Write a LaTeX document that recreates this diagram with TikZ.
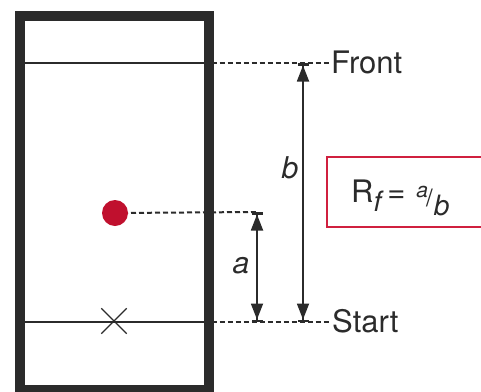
\documentclass[tikz,border=0pt]{standalone}
\usepackage{fontspec}
\setmainfont{TeX Gyre Heros}
\usetikzlibrary{arrows.meta,shapes.misc}
\definecolor{ink}{HTML}{2B2B2B}
\definecolor{spotred}{HTML}{C0102E}
\definecolor{boxred}{HTML}{D0203F}
\newcommand{\fs}[1]{\fontsize{#1}{#1}\selectfont}
\tikzset{
  wall/.style={draw=ink, line width=10pt},
  solvent/.style={draw=ink, line width=2pt},
  guide/.style={draw=ink, line width=2pt, dash pattern=on 5pt off 3pt},
  dimline/.style={draw=ink, line width=1.8pt,
    {Bar[width=11pt,line width=2.5pt] Triangle[length=16pt,width=12pt,sep=0pt]}-{Triangle[length=16pt,width=12pt,sep=0pt] Bar[width=11pt,line width=2.5pt]}},
  lbl/.style={text=ink, font=\fs{31}, inner sep=0pt},
  dimlbl/.style={text=ink, font=\fs{30}\itshape, inner sep=0pt}
}
\begin{document}
\begin{tikzpicture}[x=1pt,y=-1pt]
\useasboundingbox (0,0) rectangle (481,391);
\clip (0,0) rectangle (481,391);
% coordinates
\coordinate (frontL) at (25,63);
\coordinate (frontR) at (203.5,63);
\coordinate (startL) at (25,322);
\coordinate (startR) at (203.5,322);
\coordinate (spot) at (115,213);
\coordinate (aTop) at (257,212);
\coordinate (aBot) at (257,322);
\coordinate (bTop) at (303,63);
\coordinate (bBot) at (303,322);
% guide lines
\draw[guide] (spot) -- (aTop);
\draw[guide] (frontR) -- (329,63);
\draw[guide] (startR) -- (329,322);
% solvent lines
\draw[solvent] (frontL) -- (frontR);
\draw[solvent] (startL) -- (startR);
% frame
\draw[wall] (20,16) rectangle (208.5,390);
% spot and origin mark
\fill[spotred] (spot) circle (13);
\node[draw=ink, line width=1.3pt, cross out, minimum size=24pt, inner sep=0pt] (origin) at (114,321) {};
% dimension arrows
\draw[dimline] (aTop) -- (aBot);
\draw[dimline] (bTop) -- (bBot);
\node[dimlbl] (la) at (241,266) {a};
\node[dimlbl] (lb) at (290,168) {b};
% labels
\node[lbl, anchor=west] (front) at (331,62) {Front};
\node[lbl, anchor=west] (start) at (332,321) {Start};
% formula box
\draw[draw=boxred, line width=2pt] (327,157) rectangle (495,227);
\node[lbl, anchor=base west] (rf) at (351,202) {R\raisebox{-9pt}{\fs{28}\itshape f}\kern6pt=\kern11pt\raisebox{5pt}{\fs{21}\itshape a}\kern-2pt\raisebox{-4pt}{\fs{24}/}\kern1pt\raisebox{-13pt}{\fs{28}\itshape b}};
\end{tikzpicture}
\end{document}
